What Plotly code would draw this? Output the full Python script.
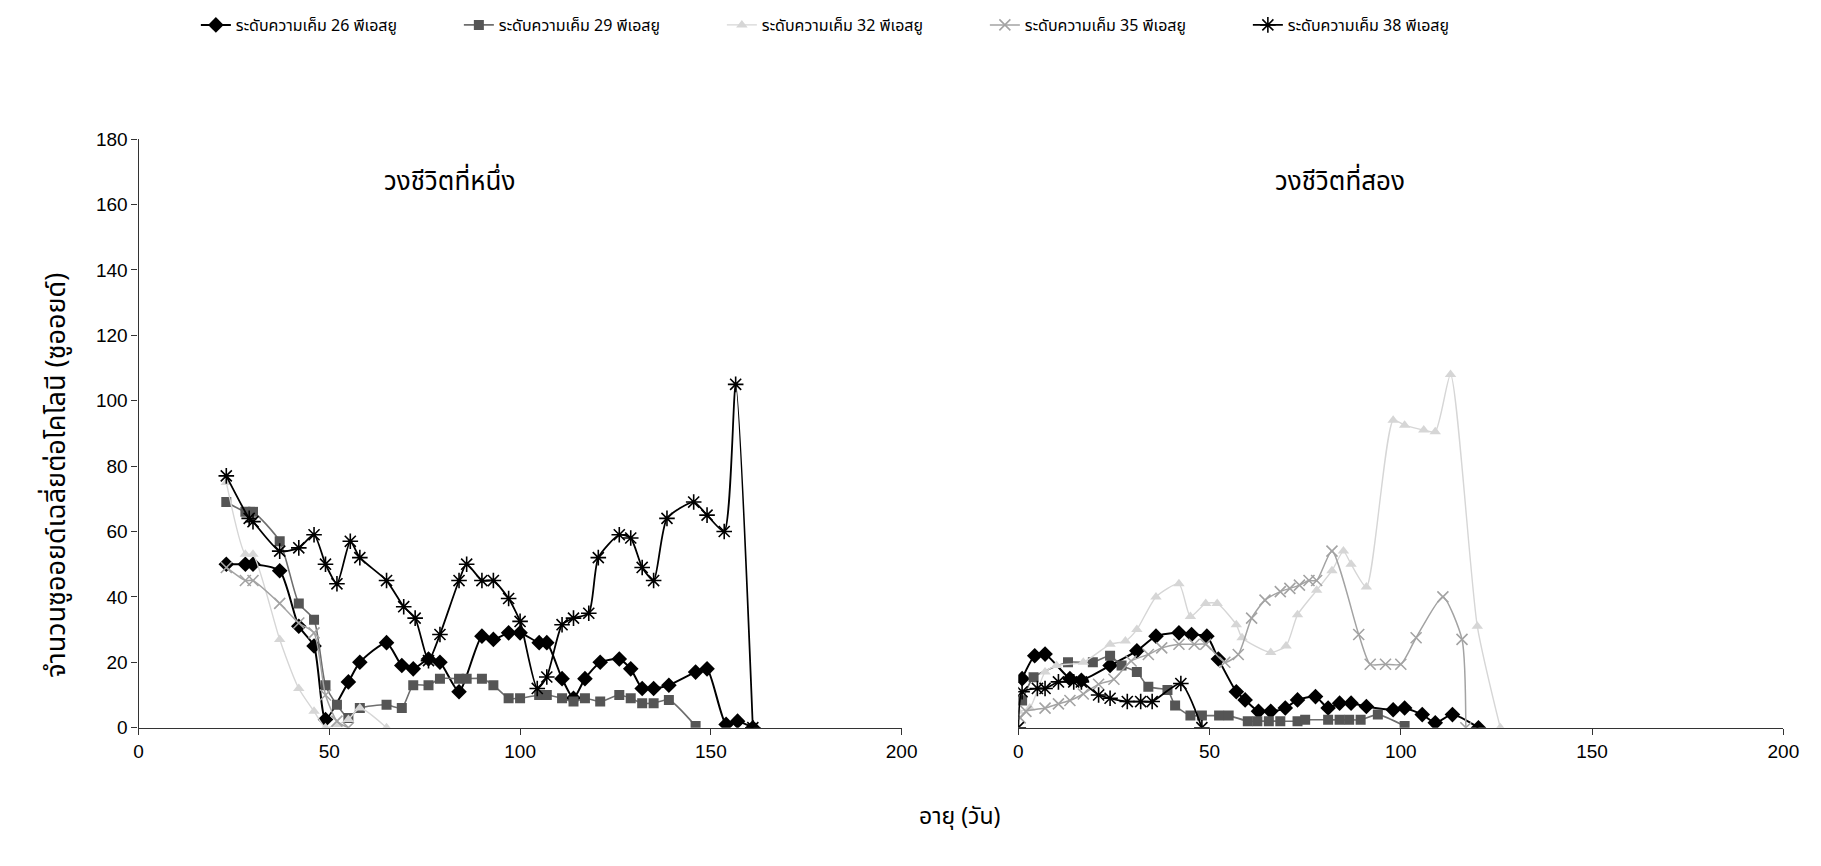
import plotly.graph_objects as go

# ---------------- data ----------------
series_names = ["ระดับความเค็ม 26 พีเอสยู", "ระดับความเค็ม 29 พีเอสยู", "ระดับความเค็ม 32 พีเอสยู",
                "ระดับความเค็ม 35 พีเอสยู", "ระดับความเค็ม 38 พีเอสยู"]
panel_titles = ["วงชีวิตที่หนึ่ง", "วงชีวิตที่สอง"]
x_title = "อายุ (วัน)"
y_title = "จำนวนซูออยด์เฉลี่ยต่อโคโลนี (ซูออยด์)"
x_ticks = [0, 50, 100, 150, 200]
y_ticks = [0, 20, 40, 60, 80, 100, 120, 140, 160, 180]

# life cycle 1
s26_x1 = [23, 28, 30, 37, 42, 46, 49, 55, 58, 65, 69, 72, 76, 79, 84, 90, 93, 97, 100, 105, 107, 111, 114, 117,
          121, 126, 129, 132, 135, 139, 146, 149, 154, 157, 161]
s26_y1 = [50, 50, 50, 48, 31, 25, 2.5, 14, 20, 26, 19, 18, 21, 20, 11, 28, 27, 29, 29, 26, 26, 15, 9, 15,
          20, 21, 18, 12, 12, 13, 17, 18, 1, 2, 0]
s29_x1 = [23, 28, 30, 37, 42, 46, 49, 52, 55, 58, 65, 69, 72, 76, 79, 84, 86, 90, 93, 97, 100, 105, 107, 111,
          114, 117, 121, 126, 129, 132, 135, 139, 146]
s29_y1 = [69, 66, 66, 57, 38, 33, 13, 7, 3, 6, 7, 6, 13, 13, 15, 15, 15, 15, 13, 9, 9, 10, 10, 9,
          8, 9, 8, 10, 9, 7.5, 7.5, 8.5, 0.5]
s32_x1 = [23, 28, 30, 37, 42, 46, 49, 52, 55, 58, 65]
s32_y1 = [75, 53, 53, 27, 12, 5, 0, 1, 2.5, 6, 0]
s35_x1 = [23, 28, 30, 37, 42, 46, 49, 52, 55]
s35_y1 = [49, 45, 45, 38, 32, 29, 10, 2, 0]
s38_x1 = [23, 29, 30, 37, 42, 46, 49, 52, 55.5, 58, 65, 69.5, 72.5, 76, 79, 84, 86, 90, 93, 97, 100, 104.5,
          107, 111, 114, 118, 120.5, 126, 129, 132, 135, 138.5, 145.5, 149, 153.5, 156.5, 161]
s38_y1 = [77, 64, 63, 54, 55, 59, 50, 44, 57, 52, 45, 37, 33.5, 20.5, 28.5, 45, 50, 45, 45, 39.5, 32.5, 12,
          15.5, 31.5, 33.5, 35, 52, 59, 58, 49, 45, 64, 69, 65, 60, 105, 0]

# life cycle 2
s26_x2 = [1, 4.3, 7, 13.5, 16.5, 24, 31, 36, 42, 45.3, 49.3, 52.3, 57, 59.3, 62.8, 66, 69.8, 73, 77.7, 81,
          84, 87, 91, 98, 101, 105.6, 109, 113.5, 120.3]
s26_y2 = [15, 22, 22.5, 15, 14.5, 19, 23.5, 28, 29, 28.5, 28, 21, 11, 8.5, 5, 5, 6, 8.5, 9.5, 6,
          7.5, 7.5, 6.5, 5.5, 6, 4, 1.5, 4, 0]
s29_x2 = [1, 4, 13, 19.5, 24, 27, 31, 34, 39, 41, 45, 48, 52.5, 55, 60, 62.5, 65.5, 68.5, 73, 75, 81, 84,
          86.5, 89.5, 94, 101]
s29_y2 = [8.3, 15.4, 20, 20, 22, 19, 17, 12.5, 11.5, 6.8, 3.7, 3.7, 3.7, 3.7, 2, 2, 2, 2, 2, 2.4, 2.4, 2.4,
          2.4, 2.4, 4, 0.5]
s32_x2 = [0, 3, 7, 10, 17, 24, 28, 31, 36, 42, 45, 49, 52, 57, 58.5, 66, 70, 73, 78, 82, 85, 87, 91, 98,
          101, 106, 109, 113, 120, 126]
s32_y2 = [5, 6, 17, 19, 20, 25.5, 26.5, 30, 40, 44, 34, 38, 38, 31.5, 27.5, 23, 25, 34.5, 42, 48, 54, 50,
          43, 94, 92.5, 91, 90.5, 108, 31, 0]
s35_x2 = [0.5, 2, 7, 10.5, 13.5, 17, 21, 25, 29.5, 34, 37.5, 42, 46, 49, 54, 57.5, 61, 64.5, 68.5, 71, 73.5,
          76, 78, 82, 89, 92, 96, 100, 104, 111, 116, 117]
s35_y2 = [3, 5, 6, 7.3, 8.3, 10.3, 13.3, 14.8, 20.4, 22.4, 24.4, 25.5, 25.5, 25.5, 20, 22.4, 33.5, 39, 41.6,
          42.6, 43.6, 45, 45, 54, 28.5, 19.4, 19.4, 19.4, 27.5, 40, 27, 0]
s38_x2 = [0, 1, 5, 7, 10.5, 14.5, 16.5, 21, 24, 28.5, 32, 35, 42.5, 48]
s38_y2 = [0, 11, 12, 12, 14, 14, 14, 10, 9, 8, 8, 8, 13.5, 0]

# ---------------- styles ----------------
styles = [
    dict(line_color="#000000", marker=dict(symbol="diamond", size=12, color="#000000")),
    dict(line_color="#6e6e6e", marker=dict(symbol="square", size=10, color="#555555")),
    dict(line_color="#d6d6d6", marker=dict(symbol="triangle-up", size=10, color="#d6d6d6")),
    dict(line_color="#a3a3a3", marker=dict(symbol="x-thin-open", size=11, color="#a3a3a3",
                                           line=dict(width=1.6, color="#a3a3a3"))),
    dict(line_color="#000000", marker=dict(symbol="asterisk-open", size=13, color="#000000",
                                           line=dict(width=1.6, color="#000000"))),
]
line_widths = [2, 1.6, 1.4, 1.5, 1.8]

panel1 = [(s26_x1, s26_y1), (s29_x1, s29_y1), (s32_x1, s32_y1), (s35_x1, s35_y1), (s38_x1, s38_y1)]
panel2 = [(s26_x2, s26_y2), (s29_x2, s29_y2), (s32_x2, s32_y2), (s35_x2, s35_y2), (s38_x2, s38_y2)]

fig = go.Figure()
for i in range(5):
    x, y = panel1[i]
    st = styles[i]
    fig.add_trace(go.Scatter(x=x, y=y, mode="lines+markers", name=series_names[i], legendgroup=str(i),
                             line=dict(color=st["line_color"], width=line_widths[i], shape="spline", smoothing=0.6),
                             marker=st["marker"], xaxis="x", yaxis="y"))
for i in range(5):
    x, y = panel2[i]
    st = styles[i]
    fig.add_trace(go.Scatter(x=x, y=y, mode="lines+markers", name=series_names[i], legendgroup=str(i),
                             showlegend=False,
                             line=dict(color=st["line_color"], width=line_widths[i], shape="spline", smoothing=0.6),
                             marker=st["marker"], xaxis="x2", yaxis="y2"))

W, H = 1821, 866
y_bot = (H - 726) / H
y_top = (H - 117) / H
tickfont = dict(family="Liberation Sans, Arial", size=19, color="#000000")
thai_font = "Noto Sans Thai, Loma, Garuda, Tlwg Typo, Noto Sans, DejaVu Sans"

axis_common = dict(range=[0, 200], tickvals=x_ticks, showgrid=False, zeroline=False,
                   showline=True, linecolor="#333333", linewidth=1.2, ticks="outside", ticklen=6,
                   tickcolor="#333333", tickfont=tickfont)

fig.update_layout(
    width=W, height=H,
    margin=dict(l=0, r=0, t=0, b=0),
    paper_bgcolor="#ffffff", plot_bgcolor="rgba(0,0,0,0)",
    showlegend=True,
    legend=dict(orientation="h", x=185 / W, y=1.022, xanchor="left", yanchor="top",
                font=dict(family=thai_font, size=16, color="#000000"),
                entrywidth=218, entrywidthmode="pixels", traceorder="normal",
                bgcolor="rgba(0,0,0,0)"),
    xaxis=dict(domain=[127 / W, 899 / W], anchor="y", **axis_common),
    yaxis=dict(domain=[y_bot, y_top], range=[0, 180], tickvals=y_ticks, showgrid=False, zeroline=False,
               showline=True, linecolor="#333333", linewidth=1.2, ticks="outside", ticklen=6, tickcolor="#333333",
               tickfont=tickfont, anchor="x"),
    xaxis2=dict(domain=[1017 / W, 1791 / W], anchor="y2", **axis_common),
    yaxis2=dict(domain=[y_bot, y_top], range=[0, 180], showgrid=False, zeroline=False, showline=False,
                showticklabels=False, ticks="", anchor="x2"),
)

ann_font = dict(family=thai_font, size=26, color="#000000")
fig.add_annotation(x=81.5, y=167, xref="x", yref="y", text=panel_titles[0], showarrow=False, font=ann_font)
fig.add_annotation(x=84, y=167, xref="x2", yref="y2", text=panel_titles[1], showarrow=False, font=ann_font)
fig.add_annotation(x=958 / W, y=(H - 838) / H, xref="paper", yref="paper", text=x_title, showarrow=False,
                   font=dict(family=thai_font, size=23, color="#000000"))
fig.add_annotation(x=21 / W, y=(H - 465) / H, xref="paper", yref="paper", text=y_title, showarrow=False,
                   textangle=-90, font=dict(family=thai_font, size=27, color="#000000"))

fig.write_html("out.html")
